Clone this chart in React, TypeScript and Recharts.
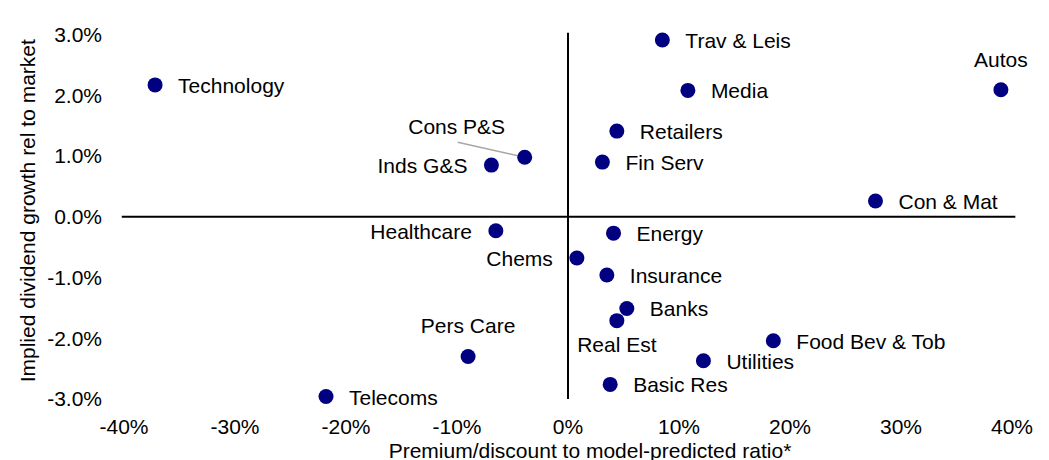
import { ScatterChart, Scatter, XAxis, YAxis, ReferenceLine, Label } from 'recharts';

const sectors = [
  'Technology', 'Trav & Leis', 'Media', 'Autos', 'Retailers', 'Cons P&S', 'Inds G&S',
  'Fin Serv', 'Con & Mat', 'Healthcare', 'Energy', 'Chems', 'Insurance', 'Banks',
  'Real Est', 'Food Bev & Tob', 'Utilities', 'Basic Res', 'Pers Care', 'Telecoms',
];
// premium/discount to model-predicted ratio, %
const premium = [
  -37.2, 8.5, 10.8, 39.0, 4.4, -3.9, -6.9,
  3.1, 27.7, -6.5, 4.1, 0.8, 3.5, 5.3,
  4.4, 18.5, 12.2, 3.8, -9.0, -21.8,
];
// implied dividend growth rel to market, %
const divGrowth = [
  2.17, 2.91, 2.08, 2.09, 1.41, 0.98, 0.85,
  0.9, 0.26, -0.23, -0.27, -0.68, -0.96, -1.51,
  -1.71, -2.04, -2.37, -2.76, -2.3, -2.96,
];
const xTicks = [-40, -30, -20, -10, 0, 10, 20, 30, 40];
const yTicks = [-3, -2, -1, 0, 1, 2, 3];

// where each point's name goes (default: right of the dot)
const labelSide: Record<string, string> = {
  Autos: 'top',
  'Pers Care': 'top',
  'Real Est': 'bottom',
  Healthcare: 'left',
  Chems: 'left',
  'Inds G&S': 'left',
  'Cons P&S': 'leader',
};

const data = sectors.map((name, i) => ({ name, x: premium[i], y: divGrowth[i] }));

const FONT = '"Liberation Sans", Arial, sans-serif';
const textStyle = { fontFamily: FONT, fontSize: 21, fill: '#000' };

function Dot(props: any) {
  const { cx, cy, payload } = props;
  const side = labelSide[payload.name] || 'right';
  let label;
  if (side === 'top') {
    label = <text x={cx} y={cy - 23} textAnchor="middle" {...textStyle}>{payload.name}</text>;
  } else if (side === 'bottom') {
    label = <text x={cx} y={cy + 31} textAnchor="middle" {...textStyle}>{payload.name}</text>;
  } else if (side === 'left') {
    label = <text x={cx - 24} y={cy + 8} textAnchor="end" {...textStyle}>{payload.name}</text>;
  } else if (side === 'leader') {
    label = (
      <g>
        <line x1={cx - 67} y1={cy - 15} x2={cx} y2={cy} stroke="#a6a6a6" strokeWidth={1.5} />
        <text x={cx - 68} y={cy - 23} textAnchor="middle" {...textStyle}>{payload.name}</text>
      </g>
    );
  } else {
    label = <text x={cx + 23} y={cy + 8} textAnchor="start" {...textStyle}>{payload.name}</text>;
  }
  return (
    <g>
      {side === 'leader' ? label : null}
      <circle cx={cx} cy={cy} r={7.5} fill="#000080" />
      {side !== 'leader' ? label : null}
    </g>
  );
}

export default function App() {
  return (
    <div style={{ position: 'relative', width: 1041, height: 452, overflow: 'visible' }}>
      <div
        style={{
          position: 'absolute', left: 3, top: -27, fontFamily: FONT, fontSize: 21,
          fontWeight: 'bold', color: '#000', whiteSpace: 'nowrap',
        }}
      >
        Fig
      </div>
      <ScatterChart width={1041} height={452} margin={{ top: 26.5, right: 37, bottom: 11, left: 30 }}>
        <XAxis
          type="number"
          dataKey="x"
          domain={[-40, 40]}
          ticks={xTicks}
          interval={0}
          axisLine={false}
          tickLine={false}
          tickSize={0}
          tickMargin={20}
          height={50}
          tickFormatter={(v: number) => `${v}%`}
          tick={textStyle}
        >
          <Label
            content={(p: any) => {
              const vb = p.viewBox;
              return (
                <text x={vb.x + vb.width / 2 + 22} y={450} textAnchor="middle" {...textStyle}>
                  Premium/discount to model-predicted ratio*
                </text>
              );
            }}
          />
        </XAxis>
        <YAxis
          type="number"
          dataKey="y"
          domain={[-3, 3]}
          ticks={yTicks}
          interval={0}
          axisLine={false}
          tickLine={false}
          tickSize={0}
          tickMargin={22}
          width={86}
          tickFormatter={(v: number) => `${v.toFixed(1)}%`}
          tick={textStyle}
        >
          <Label
            content={(p: any) => {
              const vb = p.viewBox;
              const cy = vb.y + vb.height / 2 - 6;
              return (
                <text x={27} y={cy} textAnchor="middle" transform={`rotate(-90 27 ${cy})`} {...textStyle}>
                  Implied dividend growth rel to market
                </text>
              );
            }}
          />
        </YAxis>
        <ReferenceLine
          segment={[{ x: 0, y: 3.03 }, { x: 0, y: -3.0 }]}
          ifOverflow="visible"
          stroke="#000"
          strokeWidth={2}
        />
        <ReferenceLine
          segment={[{ x: -40.2, y: 0 }, { x: 40.3, y: 0 }]}
          ifOverflow="visible"
          stroke="#000"
          strokeWidth={2}
        />
        <Scatter data={data} shape={Dot} isAnimationActive={false} />
      </ScatterChart>
    </div>
  );
}
